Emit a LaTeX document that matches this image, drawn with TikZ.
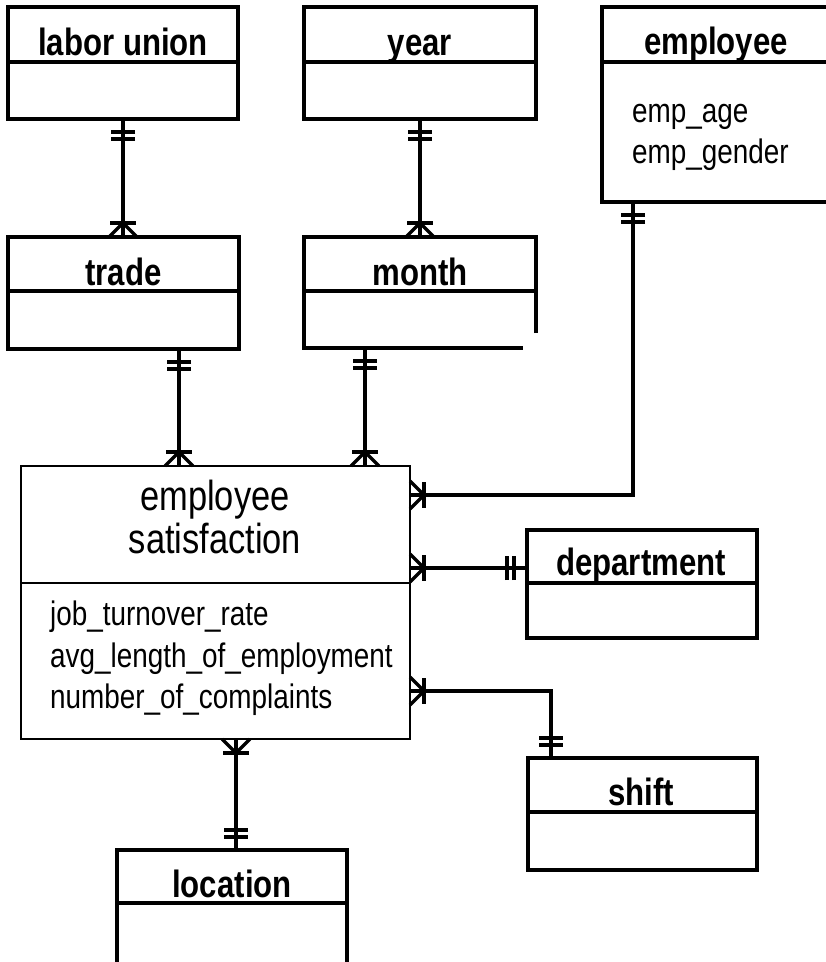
\documentclass[tikz,border=0pt]{standalone}
\usepackage{fontspec}
\setmainfont{Liberation Sans}[FakeStretch=0.82]
\begin{document}
\begin{tikzpicture}[x=1pt,y=-1pt,
  ent/.style={draw, line width=3.5pt, outer sep=0pt, inner sep=0pt, anchor=north west},
  hollow/.style={ent, draw=none},
  esbox/.style={draw, line width=2pt, outer sep=0pt, inner sep=0pt, anchor=north west},
  div/.style={line width=3.2pt},
  thindiv/.style={line width=1.4pt},
  conn/.style={line width=3.5pt},
  hdr/.style={anchor=base, inner sep=0pt, font=\fontsize{38}{44}\selectfont\bfseries},
  ttl/.style={anchor=base, inner sep=0pt, font=\fontsize{42}{43}\selectfont},
  attr/.style={anchor=base west, inner sep=0pt, font=\fontsize{34}{41}\selectfont},
  crowfoot/.pic={\draw[conn] (0,-14) -- (14,0) -- (0,14); \draw[conn] (14,-13) -- (14,13); \draw[conn] (0,0) -- (14,0);},
  onebar/.pic={\draw[conn] (13,-12) -- (13,12); \draw[conn] (20,-12) -- (20,12);}
]
\useasboundingbox (0,0) rectangle (826,962);
\fill[white] (0,0) rectangle (826,962);
\clip (0,0) rectangle (826,962);

% entity boxes
\node[ent, minimum width=230pt, minimum height=112pt] (lu) at (8,7) {};
\node[ent, minimum width=232pt, minimum height=112pt] (yr) at (304,7) {};
\node[ent, minimum width=228pt, minimum height=195pt] (emp) at (602,7) {};
\node[ent, minimum width=231pt, minimum height=112pt] (tr) at (8,237) {};
\node[hollow, minimum width=232pt, minimum height=111pt] (mo) at (304,237) {};
\node[esbox, minimum width=389pt, minimum height=273pt] (es) at (21,466) {};
\node[ent, minimum width=230pt, minimum height=108pt] (dp) at (527,530) {};
\node[ent, minimum width=229pt, minimum height=112pt] (sh) at (528,758) {};
\node[ent, minimum width=230pt, minimum height=120pt] (lo) at (117,850) {};

% month box outline (corner left open as in the source)
\draw[line width=3.5pt] (mo.east |- 0,333) -- (mo.north east) -- (mo.north west) -- (mo.south west) -- (mo.south -| 523,0);

% dividers
\draw[div] ([xshift=-1pt]lu.west |- 0,62) -- ([xshift=1pt]lu.east |- 0,62);
\draw[div] ([xshift=-1pt]yr.west |- 0,62) -- ([xshift=1pt]yr.east |- 0,62);
\draw[div] ([xshift=-1pt]emp.west |- 0,62) -- (emp.east |- 0,62);
\draw[div] ([xshift=-1pt]tr.west |- 0,291) -- ([xshift=1pt]tr.east |- 0,291);
\draw[div] ([xshift=-1pt]mo.west |- 0,291) -- ([xshift=1pt]mo.east |- 0,291);
\draw[thindiv] ([xshift=-1pt]es.west |- 0,583) -- (es.east |- 0,583);
\draw[div] ([xshift=-1pt]dp.west |- 0,583) -- (dp.east |- 0,583);
\draw[div] ([xshift=-1pt]sh.west |- 0,812) -- (sh.east |- 0,812);
\draw[div] ([xshift=-1pt]lo.west |- 0,903) -- (lo.east |- 0,903);

% headers
\node[hdr] (lut) at (123,55) {labor union};
\node[hdr] (yrt) at (420,55) {year};
\node[hdr] (empt) at (716,54) {employee};
\node[hdr] (trt) at (123.5,285) {trade};
\node[hdr] (mot) at (420,285) {month};
\node[hdr] (dpt) at (641,575) {department};
\node[hdr] (sht) at (641,805) {shift};
\node[hdr] (lot) at (232,897) {location};

% employee satisfaction
\node[ttl] (est1) at (215,510) {employee};
\node[ttl] (est2) at (215,553) {satisfaction};
\node[attr] (esa1) at (50,625) {job\_turnover\_rate};
\node[attr] (esa2) at (50,667) {avg\_length\_of\_employment};
\node[attr] (esa3) at (50,708) {number\_of\_complaints};

% employee attributes
\node[attr] (ema1) at (632,122) {emp\_age};
\node[attr] (ema2) at (632,163) {emp\_gender};

% helper coordinates for connector positions
\coordinate (xa) at (179,0);
\coordinate (xb) at (365,0);
\coordinate (xe) at (633,0);
\coordinate (ye) at (0,495);
\coordinate (yd) at (0,568);
\coordinate (xs) at (551,0);
\coordinate (ys) at (0,691);
\coordinate (xl) at (236,0);

% connectors
\draw[conn] (lu.south) -- (tr.north -| lu.south);
\pic at (lu.south) [rotate=-90] {onebar};
\pic at (tr.north -| lu.south) [rotate=90] {crowfoot};

\draw[conn] (yr.south) -- (mo.north -| yr.south);
\pic at (yr.south) [rotate=-90] {onebar};
\pic at (mo.north -| yr.south) [rotate=90] {crowfoot};

\draw[conn] (tr.south -| xa) -- (es.north -| xa);
\pic at (tr.south -| xa) [rotate=-90] {onebar};
\pic at (es.north -| xa) [rotate=90] {crowfoot};

\draw[conn] (mo.south -| xb) -- (es.north -| xb);
\pic at (mo.south -| xb) [rotate=-90] {onebar};
\pic at (es.north -| xb) [rotate=90] {crowfoot};

\draw[conn] (emp.south -| xe) |- (es.east |- ye);
\pic at (emp.south -| xe) [rotate=-90] {onebar};
\pic at (es.east |- ye) {crowfoot};

\draw[conn] (dp.west |- yd) -- (es.east |- yd);
\pic at (dp.west |- yd) [rotate=180] {onebar};
\pic at (es.east |- yd) {crowfoot};

\draw[conn] (sh.north -| xs) |- (es.east |- ys);
\pic at (sh.north -| xs) [rotate=90] {onebar};
\pic at (es.east |- ys) {crowfoot};

\draw[conn] (es.south -| xl) -- (lo.north -| xl);
\pic at (es.south -| xl) [rotate=-90] {crowfoot};
\pic at (lo.north -| xl) [rotate=90] {onebar};
\end{tikzpicture}
\end{document}
